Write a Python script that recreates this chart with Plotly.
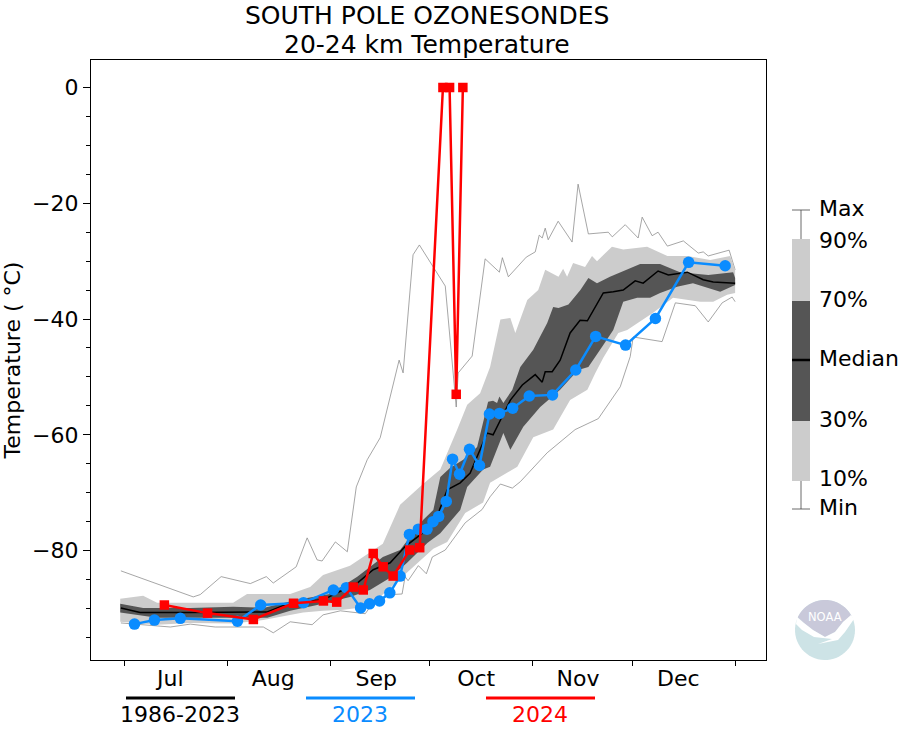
import numpy as np
import plotly.graph_objects as go

# ---- data (day since 1 Jul, temperature in deg C) ----
p90_days = [-1.2,5.7,9.9,19.9,32.8,37,50,56,59.9,68,77.9,83.1,90,95.2,100.3,103.3,107.2,110.2,113.3,116.3,117.8,121.4,124.7,126.8,130.8,132.2,133.4,135.2,138.8,140.9,142.4,146.9,150.3,157.5,163.6,169.6,176.5,182.5,184]
p90 = [-88.3,-87.8,-89.0,-89.0,-89.0,-87.5,-87.5,-86.3,-84.2,-82.6,-78.8,-72.1,-68.5,-66.0,-59.1,-54.8,-52.8,-48.3,-40.1,-39.8,-42.4,-36.7,-35.0,-31.5,-32.7,-31.3,-32.7,-30.3,-31.0,-29.1,-30.0,-27.5,-28.0,-27.5,-29.1,-29.1,-29.8,-29.1,-31.5]
p70_days = [-1.2,5.7,19.9,32.8,41.9,52.1,62,70.2,77.9,83.1,90,93.1,95.2,98.2,102.1,106.3,109.6,111.1,112.3,113,114.2,116.9,119.3,123.2,127.4,129.2,130.8,133.8,137.4,139.8,142.4,146.3,155.4,161.4,167.4,175.9,183.4,184]
p70 = [-89.2,-89.9,-89.9,-89.7,-89.9,-88.5,-87.5,-84.5,-81.1,-79.9,-74.7,-73.0,-67.3,-65.7,-64.3,-62.1,-54.3,-54.1,-54.5,-53.4,-54.5,-52.2,-48.3,-45.3,-40.7,-37.9,-38.1,-37.5,-35.0,-32.9,-33.8,-32.7,-30.5,-30.5,-31.9,-32.4,-31.9,-32.9]
p30_days = [-1.2,9.9,34.1,43.1,50,58.1,68,74,80.1,85.2,91.3,95.2,101.2,103.3,108.1,110.2,114.2,116.3,120.2,125.3,131.3,136.7,139.8,144.3,147.3,150.3,154.5,158.4,161.4,166.5,171.3,179.5,184]
p30 = [-90.7,-91.6,-91.6,-91.6,-90.4,-89.4,-88.0,-86.8,-84.7,-82.1,-78.7,-77.0,-73.0,-69.0,-66.0,-65.5,-59.7,-62.6,-58.6,-55.2,-52.2,-48.8,-48.3,-44.5,-41.9,-37.0,-36.3,-36.3,-35.5,-34.4,-33.8,-35.3,-34.1]
p10_days = [-1.2,9.9,19.9,32.8,41.9,53.9,59.9,66,73.2,77.9,85.2,93.1,97.3,102.7,108.1,110.2,118.4,123.2,129.2,134.3,139.5,141.9,144.3,148.8,151.5,159.3,165.3,173.5,177.4,181.6,184]
p10 = [-92.3,-92.8,-92.5,-92.6,-92.0,-90.7,-90.4,-90.2,-89.7,-87.6,-83.8,-79.7,-78.5,-73.5,-71.7,-68.3,-65.5,-60.4,-59.1,-54.0,-52.2,-49.3,-46.7,-42.4,-41.9,-38.9,-36.3,-37.0,-37.0,-35.8,-35.5]

median_days = [-1,4.8,19.9,32.8,43.1,50,59.9,70.2,75,80.1,84.6,90,94.6,97.3,101.2,104.2,107.2,109.3,111.1,116.3,119.9,123.8,125.9,126.8,128.9,131.3,134.3,137.3,139.5,142.5,144.3,147.3,150.3,153.9,156.3,160.8,163.9,169.6,174.4,177.4,184]
median = [-89.9,-90.7,-90.7,-90.6,-90.6,-89.0,-88.5,-85.6,-83.3,-82.1,-79.3,-76.9,-73.5,-69.5,-68.3,-66.6,-62.6,-59.7,-60.0,-54.0,-51.4,-49.6,-50.9,-49.1,-49.1,-47.1,-42.4,-40.2,-40.3,-37.2,-35.5,-35.3,-35.0,-33.4,-33.8,-31.7,-32.4,-31.9,-33.2,-33.6,-33.8]

max_days = [-1,20.8,22.9,29.2,38,42.8,44.9,51.8,55.1,58.1,59.6,63.6,67.2,69.9,73.2,77.1,82.8,84,87,88.9,96.7,100,100.6,104.8,108.7,113,113.9,115.7,121.1,123.8,125,125.9,126.8,127.7,130.7,134.9,136.7,139.8,145.8,147,150.9,154.8,156,159,160.8,163.6,168.4,172.9,174.4,175.9,182.2,184]
max_vals = [-83.5,-88.0,-87.6,-84.5,-85.7,-84.5,-85.6,-82.8,-77.8,-81.6,-81.8,-78.5,-80.2,-69.0,-64.3,-60.5,-47.1,-49.3,-28.9,-27.2,-34.3,-55.2,-49.3,-46.4,-29.6,-31.9,-29.4,-32.7,-29.3,-28.4,-25.5,-26.0,-24.3,-26.3,-23.1,-26.7,-16.7,-25.3,-25.0,-25.8,-23.7,-26.0,-22.4,-25.6,-25.0,-27.4,-26.5,-28.6,-28.4,-29.1,-28.1,-31.5]

min_days = [-1,13.9,19.9,27.4,31.9,41.9,44.9,50,56.6,59.9,65.1,72.6,75,80.1,83.7,84.6,85.5,88.6,91,92.8,96.7,102.7,107.8,110.2,113.3,116.9,119.3,127.4,135.8,142.8,149.4,152.4,153.3,162,166,172,175.9,180.1,183.1,184]
min_vals = [-92.5,-93.2,-92.7,-93.2,-93.2,-93.2,-94.2,-92.3,-92.8,-91.1,-90.4,-90.9,-89.0,-87.6,-87.5,-84.5,-85.2,-82.6,-84.0,-81.1,-79.9,-75.2,-72.9,-70.7,-68.5,-69.2,-68.1,-63.1,-59.1,-57.2,-51.7,-46.5,-43.1,-43.9,-37.2,-37.7,-40.5,-37.2,-36.2,-37.0]

days_2023 = [3.1,9.1,16.9,34.1,41.1,54,63,66.9,71.2,73.9,76.9,80,83.1,85.9,88.6,91.2,93,94.7,97,98.9,101,104,107,110,113,117,122,129,136,142,151,160,170,181]
temp_2023 = [-92.7,-92.0,-91.7,-92.2,-89.4,-89.0,-86.8,-86.4,-89.9,-89.2,-88.7,-87.3,-84.4,-77.2,-76.3,-76.3,-75.0,-74.1,-71.5,-64.2,-66.8,-62.5,-65.3,-56.4,-56.3,-55.4,-53.3,-53.1,-48.8,-43.0,-44.5,-39.9,-30.2,-30.8]

days_2024 = [12.1,25.1,38.9,51,60,64,69,72,75,78,81,86,89,96,98,100,102]
temp_2024 = [-89.4,-90.8,-91.9,-89.1,-88.7,-88.9,-86.3,-86.8,-80.5,-82.8,-84.4,-79.9,-79.5,0,0,-53,0]

month_starts = [0,31,62,92,123,153,184]
month_label_days = [13.9,44.9,75.9,106,136.7,166.9]
month_labels = ["Jul","Aug","Sep","Oct","Nov","Dec"]
y_major = [0,-20,-40,-60,-80]
y_minor = [v for v in range(0,-100,-5) if v % 20 != 0]

legend_labels = ["Max","90%","70%","Median","30%","10%","Min"]
legend_label_y = [208,240,299,358,419,478,507]
period_labels = ["1986-2023","2023","2024"]
period_colors = ["#000000","#0a8cff","#ff0000"]
period_x = [(126,235),(306,415),(486,595)]

FONT = "DejaVu Sans"
LIGHT, DARK = "#cccccc", "#555555"
L, R, T, B = 91, 766, 60, 660   # plot area on the page

def px(x): return (x - L) / (R - L)
def py(y): return (B - y) / (B - T)

fig = go.Figure()

def band(ux, uy, lx, ly, color):
    fig.add_trace(go.Scatter(x=ux + lx[::-1], y=uy + ly[::-1], fill="toself",
                             fillcolor=color, mode="none", hoverinfo="skip", showlegend=False))

fig.add_trace(go.Scatter(x=max_days, y=max_vals, mode="lines", line=dict(color="#808080", width=0.7), showlegend=False))
fig.add_trace(go.Scatter(x=min_days, y=min_vals, mode="lines", line=dict(color="#808080", width=0.7), showlegend=False))
band(p90_days, p90, p10_days, p10, LIGHT)
band(p70_days, p70, p30_days, p30, DARK)
fig.add_trace(go.Scatter(x=median_days, y=median, mode="lines", line=dict(color="#000000", width=1.5), showlegend=False))
fig.add_trace(go.Scatter(x=days_2023, y=temp_2023, mode="lines+markers", line=dict(color="#0a8cff", width=2.5),
                         marker=dict(symbol="circle", size=11.5, color="#0a8cff"), showlegend=False))
fig.add_trace(go.Scatter(x=days_2024, y=temp_2024, mode="lines+markers", line=dict(color="#ff0000", width=2.5),
                         marker=dict(symbol="square", size=9.5, color="#ff0000"), showlegend=False))

shapes, ann = [], []

def rect(x0, y0, x1, y1, color):
    shapes.append(dict(type="rect", xref="paper", yref="paper", x0=px(x0), x1=px(x1), y0=py(y0), y1=py(y1),
                       fillcolor=color, line_width=0, layer="above"))

def seg(x0, y0, x1, y1, color, w):
    shapes.append(dict(type="line", xref="paper", yref="paper", x0=px(x0), x1=px(x1), y0=py(y0), y1=py(y1),
                       line=dict(color=color, width=w), layer="above"))

def poly(pts, color):
    path = "M " + " L ".join(f"{px(a):.5f},{py(b):.5f}" for a, b in pts) + " Z"
    shapes.append(dict(type="path", xref="paper", yref="paper", path=path, fillcolor=color, line_width=0, layer="above"))

def label(x, y, text, size=22, color="#000000", anchor="center"):
    ann.append(dict(xref="paper", yref="paper", x=px(x), y=py(y), text=text, showarrow=False, xanchor=anchor,
                    yanchor="middle", font=dict(family=FONT, size=size, color=color), align="center"))

# box-legend key
seg(801, 210, 801, 239, "#444444", 0.8)
seg(801, 481, 801, 509, "#444444", 0.8)
seg(792, 210, 810, 210, "#444444", 0.8)
seg(792, 509, 810, 509, "#444444", 0.8)
rect(792, 239, 810, 301, LIGHT)
rect(792, 301, 810, 421, DARK)
rect(792, 421, 810, 481, LIGHT)
seg(792, 360, 810, 360, "#000000", 2.5)
for t, yy in zip(legend_labels, legend_label_y):
    label(817, yy, t, anchor="left")

# period key under the axis
for t, c, (a, b), xc in zip(period_labels, period_colors, period_x, [180, 360, 540]):
    seg(a, 698, b, 698, c, 3)
    label(xc, 715, t, color=c)

# title and logo
label(427, 15, "SOUTH POLE OZONESONDES", size=25)
label(427, 44, "20-24 km Temperature", size=25)

cx, cy, r = 825, 630, 30
th = np.linspace(0, 2 * np.pi, 60)
poly([(cx + r * np.cos(t), cy + r * np.sin(t)) for t in th], "#cde3e6")
th2 = np.radians(np.linspace(205, 332, 30))
poly([(cx + r * np.cos(t), cy + r * np.sin(t)) for t in th2] +
     [(843, 622), (835, 632), (825, 637), (813, 630), (804, 623)], "#c9c9da")
poly([(797, 617), (804, 623), (813, 630), (825, 637), (835, 632), (843, 622), (851, 615), (854, 619),
      (845, 632), (838, 640), (818, 644), (832, 639), (814, 637), (802, 630), (796, 624)], "#ffffff")
label(825, 617, "NOAA", size=11.5, color="#ffffff")

fig.update_layout(
    width=900, height=750, autosize=False,
    margin=dict(l=L, r=900 - R, t=T, b=750 - B, pad=0),
    plot_bgcolor="white", paper_bgcolor="white",
    font=dict(family=FONT, size=22, color="#000000"),
    showlegend=False, shapes=shapes, annotations=ann,
    xaxis=dict(range=[-10, 193.3], showgrid=False, zeroline=False, showline=True, mirror=True,
               linecolor="black", linewidth=1.2,
               tickmode="array", tickvals=month_label_days, ticktext=month_labels, ticks="",
               ticklabelstandoff=-2, tickfont=dict(family=FONT, size=22),
               minor=dict(tickmode="array", tickvals=month_starts, ticks="outside", ticklen=5,
                          tickwidth=1, tickcolor="black", showgrid=False)),
    yaxis=dict(range=[-98.9, 4.75], showgrid=False, zeroline=False, showline=True, mirror=True,
               linecolor="black", linewidth=1.2, automargin=False,
               tickmode="array", tickvals=y_major, ticks="outside", ticklen=7, tickwidth=1, tickcolor="black",
               tickfont=dict(family=FONT, size=22),
               title=dict(text="Temperature ( °C)", font=dict(family=FONT, size=22)),
               minor=dict(tickmode="array", tickvals=y_minor, ticks="outside", ticklen=3.5,
                          tickwidth=1, tickcolor="black", showgrid=False)),
)

fig.write_html("out.html", config=dict(displayModeBar=False),
               post_script="document.body.style.margin='0';document.documentElement.style.overflow='hidden';")
